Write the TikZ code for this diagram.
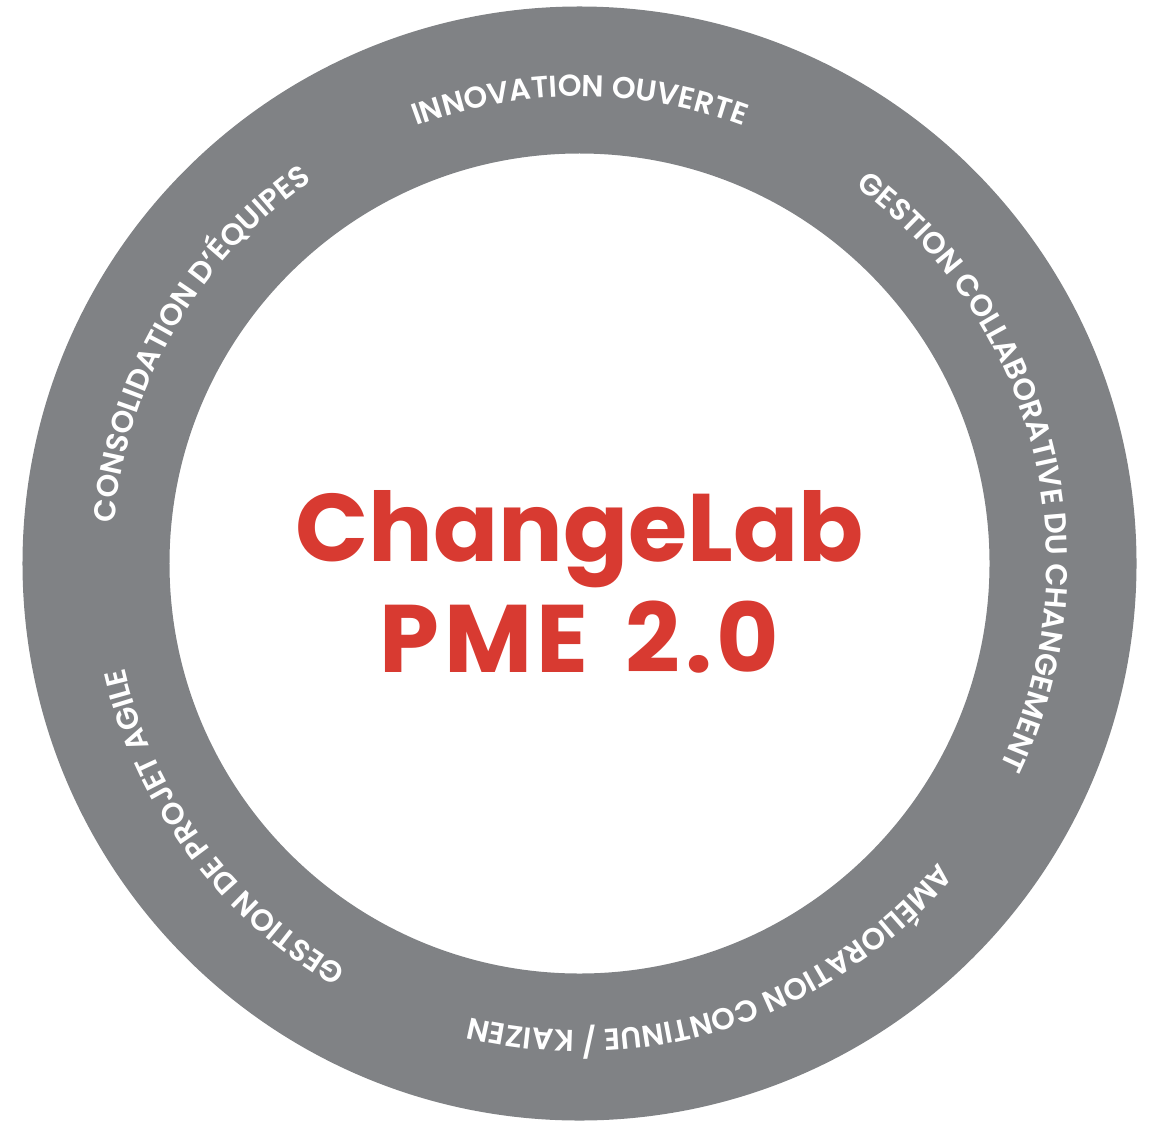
\documentclass[tikz,border=0pt]{standalone}
\usepackage{fontspec}
\setmainfont{Poppins}
\newfontfamily\ringfont{Poppins}[UprightFont=* SemiBold]
\usetikzlibrary{decorations.text}

\definecolor{ringgray}{HTML}{808285}
\definecolor{labred}{HTML}{D83A31}

\tikzset{
  ringlabel/.style={decorate,
    decoration={text along path, text align=center, text color=white,
      text={|\ringfont\fontsize{8.6}{10}\selectfont|#1}}},
  titlebox/.style={text=labred, align=center,
    font=\fontsize{27.3}{31.6}\selectfont\bfseries}
}

\begin{document}
\begin{tikzpicture}

  \useasboundingbox (-5.795,-5.565) rectangle (5.735,5.635);

  \fill[ringgray, even odd rule] (0,0) circle (5.57) (0,0) circle (4.10);

  \node[titlebox] (title) at (0,-0.18)
    {ChangeLab\\{\addfontfeature{LetterSpace=5}PME\hspace{0.12em} 2.0}};

  \path[ringlabel={INNOVATION OUVERTE}]
    (150:4.67) arc[start angle=150, end angle=30, radius=4.67];
  \path[ringlabel={GESTION COLLABORATIVE DU CHANGEMENT}]
    (84:4.67) arc[start angle=84, end angle=-56, radius=4.67];
  \path[ringlabel={AMÉLIORATION CONTINUE / KAIZEN}]
    (-11.7:4.67) arc[start angle=-11.7, end angle=-131.7, radius=4.67];
  \path[ringlabel={GESTION DE PROJET AGILE}]
    (276.5:4.67) arc[start angle=276.5, end angle=156.5, radius=4.67];
  \path[ringlabel={CONSOLIDATION D’ÉQUIPES}]
    (210:4.67) arc[start angle=210, end angle=90, radius=4.67];

\end{tikzpicture}
\end{document}
